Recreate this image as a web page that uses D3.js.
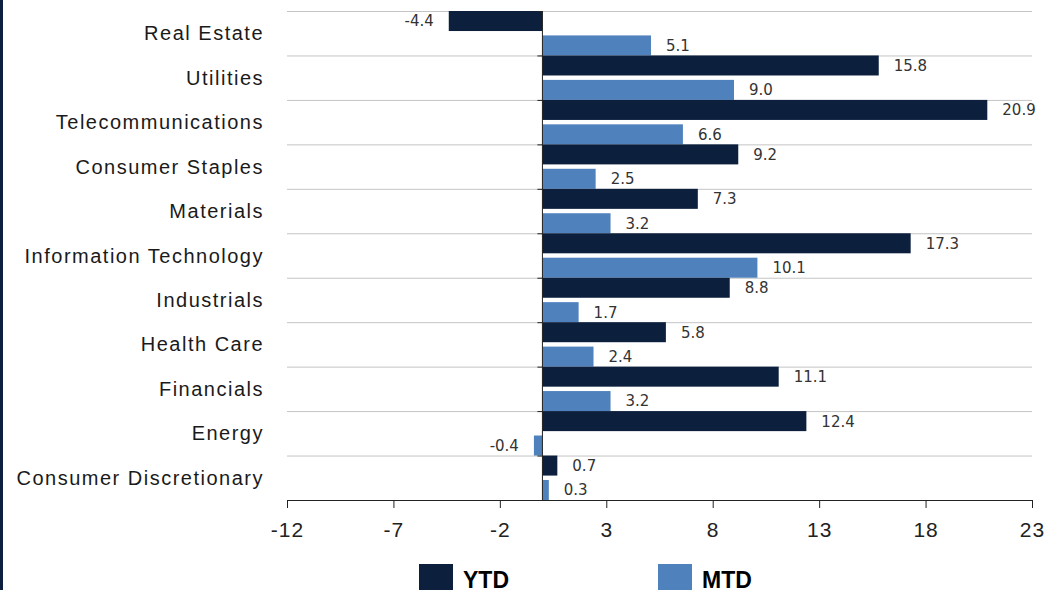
<!DOCTYPE html>
<html>
<head>
<meta charset="utf-8">
<script src="https://cdn.jsdelivr.net/npm/d3@7"></script>
<style>
  body { margin: 0; background: #fff; }
  svg { display: block; }
</style>
</head>
<body>
<div id="chart"></div>
<script>
// sectors, top to bottom as drawn
let sectors = ["Real Estate", "Utilities", "Telecommunications", "Consumer Staples", "Materials",
    "Information Technology", "Industrials", "Health Care", "Financials", "Energy", "Consumer Discretionary"];
let ytd = [-4.4, 15.8, 20.9, 9.2, 7.3, 17.3, 8.8, 5.8, 11.1, 12.4, 0.7];
let mtd = [5.1, 9.0, 6.6, 2.5, 3.2, 10.1, 1.7, 2.4, 3.2, -0.4, 0.3];
let seriesNames = ["YTD", "MTD"];
let xTicks = [-12, -7, -2, 3, 8, 13, 18, 23];

let width = 1059;
let height = 590;
let colors = { YTD: "#0c1f3d", MTD: "#4f81bd" };
let font = "'Liberation Sans', Arial, sans-serif";

let svg = d3.select("#chart")
    .append("svg")
    .attr("width", width)
    .attr("height", height);

/* dark edge on the left */
svg.append("rect").attr("x", 0).attr("y", 0).attr("width", 3).attr("height", height).attr("fill", "#0c1f3d");

let xScale = d3.scaleLinear().domain([-12, 23]).range([287, 1032]);
let yScale = d3.scaleBand().domain(sectors).range([11, 500]).padding(0);
let subScale = d3.scaleBand().domain(seriesNames).range([0, yScale.bandwidth()]).paddingInner(0.18).paddingOuter(0);

/* gridlines at top of each band */
svg.selectAll("line.grid")
    .data(sectors)
    .enter()
    .append("line")
    .attr("class", "grid")
    .attr("x1", xScale(-12))
    .attr("x2", xScale(23))
    .attr("y1", d => yScale(d) + 0.5)
    .attr("y2", d => yScale(d) + 0.5)
    .attr("stroke", "#c4c4c4")
    .attr("stroke-width", 1);

/* one entry per bar */
let bars = [];
sectors.forEach((s, i) => {
    bars.push({ sector: s, key: "YTD", value: ytd[i] });
    bars.push({ sector: s, key: "MTD", value: mtd[i] });
});

svg.selectAll("rect.bar")
    .data(bars)
    .enter()
    .append("rect")
    .attr("class", "bar")
    .attr("x", d => xScale(Math.min(0, d.value)))
    .attr("width", d => Math.abs(xScale(d.value) - xScale(0)))
    .attr("y", d => yScale(d.sector) + subScale(d.key))
    .attr("height", subScale.bandwidth())
    .attr("fill", d => colors[d.key]);

svg.selectAll("text.val")
    .data(bars)
    .enter()
    .append("text")
    .attr("class", "val")
    .attr("x", d => d.value < 0 ? xScale(d.value) - 15 : xScale(d.value) + 15)
    .attr("y", d => yScale(d.sector) + subScale(d.key) + subScale.bandwidth() / 2)
    .attr("dy", "0.36em")
    .attr("text-anchor", d => d.value < 0 ? "end" : "start")
    .style("font-family", "'DejaVu Sans', sans-serif")
    .style("font-size", "15px")
    .attr("fill", "#333")
    .text(d => d.value.toFixed(1));

/* zero line with little ticks to the left */
svg.append("line")
    .attr("x1", xScale(0)).attr("x2", xScale(0))
    .attr("y1", 11).attr("y2", 500)
    .attr("stroke", "#222").attr("stroke-width", 1);
svg.selectAll("line.ztick")
    .data(sectors)
    .enter()
    .append("line")
    .attr("x1", xScale(0) - 5).attr("x2", xScale(0))
    .attr("y1", d => yScale(d) + 0.5).attr("y2", d => yScale(d) + 0.5)
    .attr("stroke", "#222");

/* category labels */
svg.selectAll("text.cat")
    .data(sectors)
    .enter()
    .append("text")
    .attr("class", "cat")
    .attr("x", 264)
    .attr("y", d => yScale(d) + yScale.bandwidth() / 2)
    .attr("dy", "0.35em")
    .attr("text-anchor", "end")
    .style("font-family", font)
    .style("font-size", "20px")
    .style("letter-spacing", "1.5px")
    .attr("fill", "#1a1a1a")
    .text(d => d);

/* x axis */
let xAxis = d3.axisBottom(xScale)
    .tickValues(xTicks)
    .tickSize(8)
    .tickSizeOuter(0)
    .tickFormat(d => String(d));

let gx = svg.append("g")
    .attr("transform", "translate(0,500)")
    .call(xAxis);
gx.select(".domain").attr("stroke", "#222");
gx.selectAll(".tick line").attr("stroke", "#222");
gx.selectAll(".tick text")
    .attr("y", 22)
    .style("font-family", font)
    .style("font-size", "21px")
    .style("letter-spacing", "1px")
    .attr("fill", "#222");

/* legend, cut at the bottom edge like the original */
let legendX = { YTD: 419, MTD: 658 };
seriesNames.forEach(k => {
    svg.append("rect").attr("x", legendX[k]).attr("y", 564).attr("width", 34).attr("height", 30).attr("fill", colors[k]);
    svg.append("text")
        .attr("x", legendX[k] + 44)
        .attr("y", 588)
        .style("font-family", font)
        .style("font-size", "23px")
        .style("font-weight", "bold")
        .attr("fill", "#000")
        .text(k);
});
</script>
</body>
</html>
